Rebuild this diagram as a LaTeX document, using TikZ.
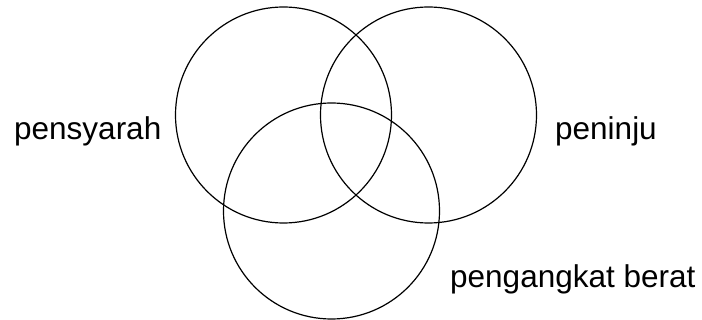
\documentclass[tikz,border=0pt]{standalone}
\usepackage{fontspec}
\setmainfont{Liberation Sans}

\begin{document}
\begin{tikzpicture}[x=1pt,y=-1pt]
\tikzset{set/.style={draw,line width=1.2pt,circle,minimum size=216pt,inner sep=0pt},
  setlabel/.style={anchor=base west,inner sep=0pt,font=\fontsize{31.5}{36}\selectfont}}
\useasboundingbox (0,0) rectangle (702,320);
\node[set] (A) at (283.5,115) {};
\node[set] (B) at (428.5,115) {};
\node[set] (C) at (331.5,211) {};
\node[setlabel] (LA) at (14,140) {pensyarah};
\node[setlabel] (LB) at (555,140) {peninju};
\node[setlabel] (LC) at (450,288) {pengangkat berat};
\end{tikzpicture}
\end{document}
